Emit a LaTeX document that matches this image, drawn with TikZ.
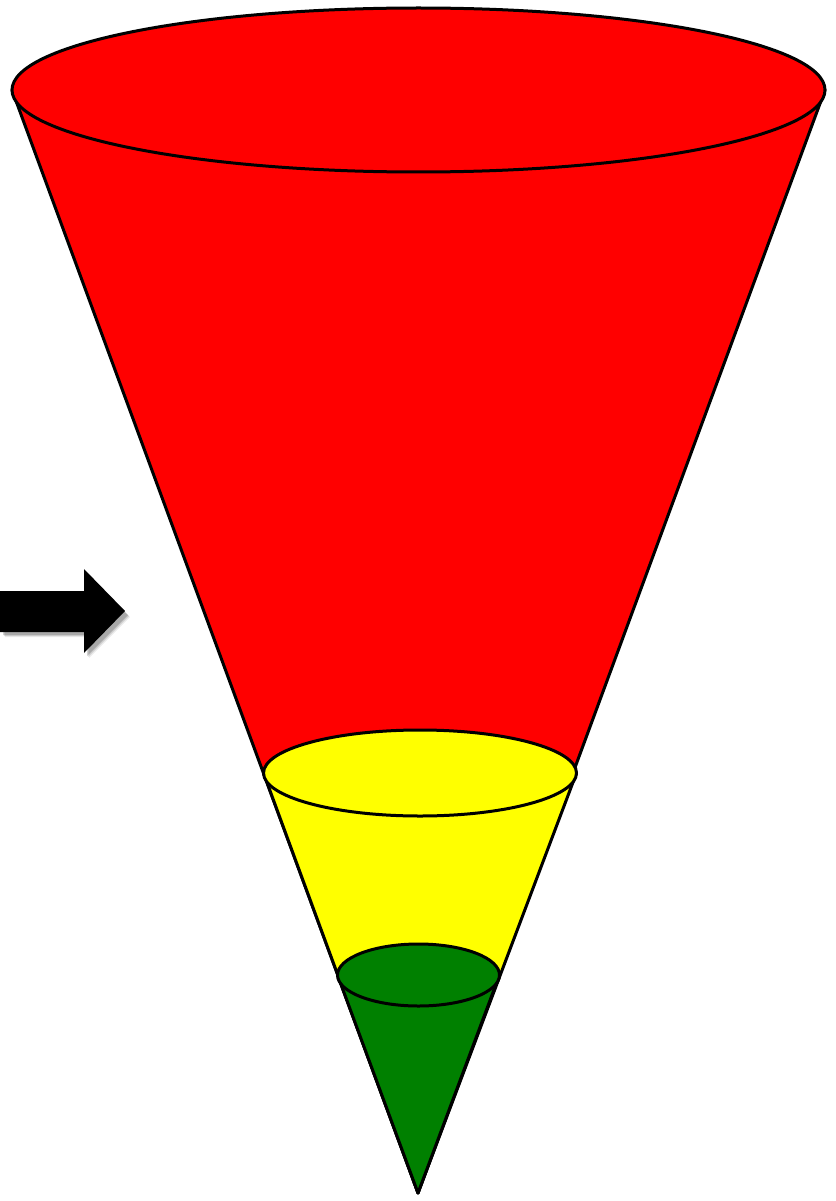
\documentclass[tikz,border=0pt]{standalone}
\usetikzlibrary{calc}
\definecolor{conered}{RGB}{255,0,0}
\definecolor{coneyellow}{RGB}{255,255,0}
\definecolor{conegreen}{RGB}{0,128,0}
\begin{document}
\begin{tikzpicture}[x=1pt,y=-1pt,
  edge/.style={draw=black,line width=3pt,line join=round},
]
\useasboundingbox (0,0) rectangle (835,1201);
% key points
\coordinate (apex) at (418,1193);
\coordinate (tl) at (12,90);   \coordinate (tr) at (825,90);
\coordinate (yl) at (263.5,773); \coordinate (yr) at (576.5,773);
\coordinate (gl) at (337.5,975); \coordinate (gr) at (499.5,975);
% red cone
\path[edge,fill=conered] (tl) -- (apex) -- (tr) -- cycle;
\path[edge,fill=conered] (418.5,90) ellipse [x radius=406.5pt, y radius=82pt];
% yellow part
\path[edge,fill=coneyellow] (yl) -- (apex) -- (yr) -- cycle;
\path[edge,fill=coneyellow] (420,773) ellipse [x radius=156.5pt, y radius=43pt];
% green part
\path[edge,fill=conegreen] (gl) -- (apex) -- (gr) -- cycle;
\path[edge,fill=conegreen] (418.5,975) ellipse [x radius=81pt, y radius=31pt];
% arrow shadow
\foreach \o/\a in {5/0.08,4/0.12,3/0.18} {
  \fill[black,opacity=\a,shift={(\o,\o)}] (0,592) -- (84,592) -- (84,571) -- (125,612) -- (84,653) -- (84,632) -- (0,632) -- cycle;
}
% arrow
\fill[black] (0,591) -- (84,591) -- (84,569) -- (125,611) -- (84,653) -- (84,632) -- (0,632) -- cycle;
\end{tikzpicture}
\end{document}
